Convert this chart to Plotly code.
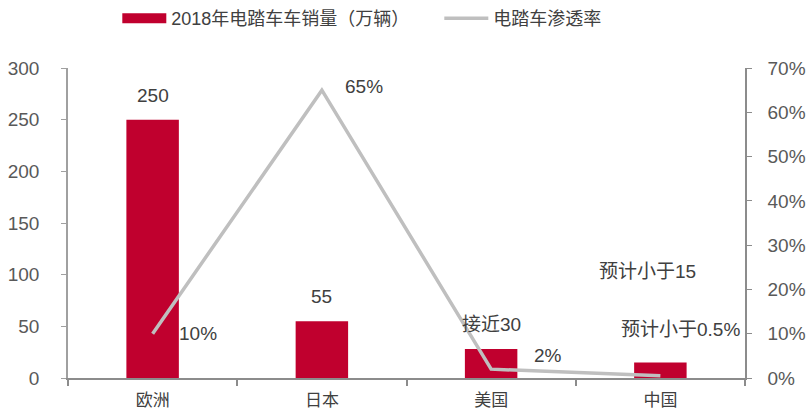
import plotly.graph_objects as go

# Regional e-bike sales (10k units, 2018) and e-bike penetration rate (%)
regions = ["欧洲", "日本", "美国", "中国"]
sales_2018 = [250, 55, 28, 15]
sales_labels = ["250", "55", "接近30", ""]
penetration = [10, 65, 2, 0.5]
penetration_labels = ["10%", "65%", "2%", "预计小于0.5%"]

sales_name = "2018年电踏车车销量（万辆）"
rate_name = "电踏车渗透率"
china_note = "预计小于15"

BAR_COLOR = "#C0002E"
LINE_COLOR = "#BFBFBF"
AXIS_COLOR = "#A0A0A0"
TEXT_COLOR = "#404040"
FONT = "Liberation Sans, Arial, Noto Sans CJK SC, sans-serif"

fig = go.Figure()

fig.add_trace(go.Bar(
    x=regions, y=sales_2018, name=sales_name, showlegend=False,
    marker=dict(color=BAR_COLOR, line=dict(width=0)),
    width=0.31, yaxis="y",
))

fig.add_trace(go.Scatter(
    x=regions, y=penetration, name=rate_name, mode="lines", showlegend=False,
    line=dict(color=LINE_COLOR, width=3.5), yaxis="y2",
))

# legend entries: wide flat swatch for the bars, grey line for the rate
fig.add_trace(go.Scatter(
    x=[None], y=[None], name=sales_name, mode="lines",
    line=dict(color=BAR_COLOR, width=11), legendrank=1,
))
fig.add_trace(go.Scatter(
    x=[None], y=[None], name=rate_name, mode="lines",
    line=dict(color=LINE_COLOR, width=3.5), legendrank=2,
))

annotations = []
# value labels above bars
for r, v, t in zip(regions, sales_2018, sales_labels):
    if t:
        annotations.append(dict(
            x=r, y=v, xref="x", yref="y", text=t, showarrow=False,
            yanchor="bottom", yshift=12,
            font=dict(size=19, color=TEXT_COLOR, family=FONT),
        ))
annotations.append(dict(
    x=regions[3], y=sales_2018[3], xref="x", yref="y", text=china_note,
    showarrow=False, yanchor="middle", xshift=-13, yshift=91,
    font=dict(size=19, color=TEXT_COLOR, family=FONT),
))

# penetration labels next to line points
offsets = [(24, 0, "left"), (21, 4, "left"), (41, 14, "left"), (20, 46, "center")]
for r, v, t, (dx, dy, xa) in zip(regions, penetration, penetration_labels, offsets):
    annotations.append(dict(
        x=r, y=v, xref="x", yref="y2", text=t, showarrow=False,
        xanchor=xa, yanchor="middle", xshift=dx, yshift=dy,
        font=dict(size=19, color=TEXT_COLOR, family=FONT),
    ))

fig.update_layout(
    width=809, height=414,
    margin=dict(l=68, r=64, t=68, b=36, autoexpand=False),
    paper_bgcolor="white", plot_bgcolor="white",
    font=dict(family=FONT, color=TEXT_COLOR),
    showlegend=True,
    legend=dict(
        orientation="h", x=0.145, xanchor="left", y=1.0, yanchor="top",
        yref="container", xref="container",
        font=dict(size=18, color=TEXT_COLOR, family=FONT),
        itemwidth=44, traceorder="normal", tracegroupgap=0,
        entrywidth=263, entrywidthmode="pixels",
    ),
    xaxis=dict(
        type="category", range=[-0.5, 3.5], automargin=False,
        showline=True, linecolor="#8C8C8C", linewidth=2,
        ticks="outside", tickson="boundaries", ticklen=6, tickcolor="#8C8C8C",
        tickwidth=1.5, ticklabelstandoff=6,
        tickfont=dict(size=17, color=TEXT_COLOR, family="Noto Sans CJK SC"),
        showgrid=False, zeroline=False,
    ),
    yaxis=dict(
        range=[0, 300], dtick=50, automargin=False,
        showline=True, linecolor=AXIS_COLOR, linewidth=1.5,
        ticks="outside", ticklen=5, tickcolor=AXIS_COLOR,
        ticklabelstandoff=18,
        tickfont=dict(size=19, color="#595959", family=FONT),
        showgrid=False, zeroline=False,
    ),
    yaxis2=dict(
        range=[0, 70], dtick=10, ticksuffix="%", overlaying="y", side="right",
        automargin=False,
        showline=True, linecolor="#8C8C8C", linewidth=1.5,
        ticks="outside", ticklen=5, tickcolor="#8C8C8C",
        ticklabelstandoff=12,
        tickfont=dict(size=19, color="#595959", family=FONT),
        showgrid=False, zeroline=False,
    ),
    annotations=annotations,
)

fig.write_html("out.html")
